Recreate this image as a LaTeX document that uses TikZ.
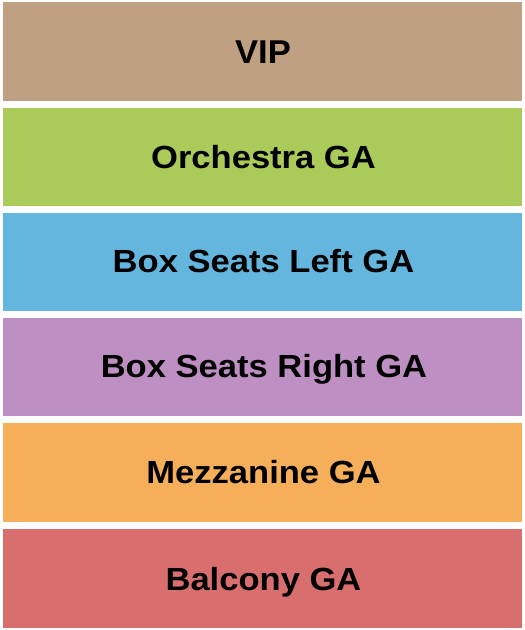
\documentclass[tikz,border=0pt]{standalone}
\usepackage{fontspec}
\setmainfont{Liberation Sans}
\usepackage{tikz}
\usetikzlibrary{positioning}
\definecolor{vip}{RGB}{192,160,131}
\definecolor{orchestra}{RGB}{170,203,90}
\definecolor{boxleft}{RGB}{100,182,222}
\definecolor{boxright}{RGB}{190,143,195}
\definecolor{mezzanine}{RGB}{245,174,90}
\definecolor{balcony}{RGB}{217,110,110}

\begin{document}
\begin{tikzpicture}[x=1pt,y=-1pt,
label/.style={anchor=base,inner sep=0pt,xscale=1.08,font=\fontsize{32}{32}\selectfont\bfseries}]
\useasboundingbox (0,0) rectangle (525,630);

\fill [color=vip] (3,2) rectangle (522,101);
\fill [color=orchestra] (3,108) rectangle (522,206);
\fill [color=boxleft] (3,213) rectangle (522,311);
\fill [color=boxright] (3,318) rectangle (522,416);
\fill [color=mezzanine] (3,423) rectangle (522,522);
\fill [color=balcony] (3,529) rectangle (522,628);

\node [label,xscale=0.97,font=\fontsize{33}{33}\selectfont\bfseries] (vip) at (263,63.3) {VIP};
\node [label] (orchestra) at (263.5,168) {Orchestra GA};
\node [label] (boxleft) at (263.5,272.5) {Box Seats Left GA};
\node [label] (boxright) at (264,377.3) {Box Seats Right GA};
\node [label] (mezzanine) at (263.5,483.5) {Mezzanine GA};
\node [label] (balcony) at (263.5,590) {Balcony GA};
\end{tikzpicture}
\end{document}
